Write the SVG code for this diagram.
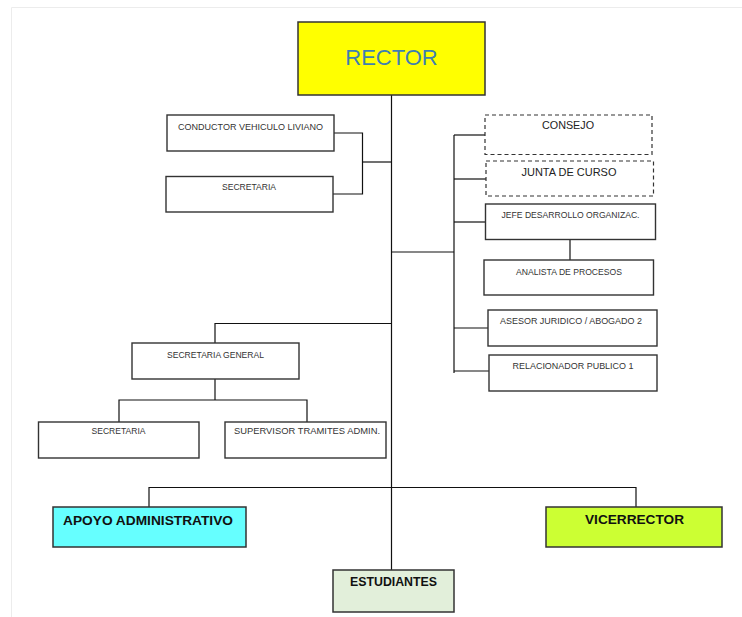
<svg xmlns="http://www.w3.org/2000/svg" width="742" height="617" viewBox="0 0 742 617">
<style>
.box{fill:#fff;stroke:#333;stroke-width:1.4}
.dash{fill:#fff;stroke:#333;stroke-width:1.2;stroke-dasharray:4 3}
.sm{font-family:"Liberation Sans",Arial,sans-serif;font-size:8.5px;fill:#333;text-anchor:middle}
.md{font-family:"Liberation Sans",Arial,sans-serif;font-size:10.5px;fill:#222;text-anchor:middle}
.bd{font-family:"Liberation Sans",Arial,sans-serif;font-size:12px;font-weight:bold;fill:#111;text-anchor:middle}
.conn line,.conn polyline{stroke:#111;stroke-width:1.2;fill:none}
</style>
<rect x="0" y="0" width="742" height="617" fill="#fff"/>
<polyline points="11.5,617 11.5,7.5 742,7.5" fill="none" stroke="#ececec" stroke-width="1"/>
<g class="conn">
<line x1="391.5" y1="95" x2="391.5" y2="570"/>
<polyline points="334,133 362.5,133 362.5,194 333,194"/>
<line x1="362.5" y1="162" x2="391.5" y2="162"/>
<line x1="391.5" y1="252" x2="454" y2="252"/>
<line x1="454" y1="135" x2="454" y2="373"/>
<line x1="454" y1="135" x2="485" y2="135"/>
<line x1="454" y1="179" x2="486" y2="179"/>
<line x1="454" y1="222" x2="486" y2="222"/>
<line x1="454" y1="328" x2="488" y2="328"/>
<line x1="454" y1="371" x2="489" y2="371"/>
<line x1="570" y1="239" x2="570" y2="260"/>
<polyline points="391.5,323.5 215,323.5 215,343"/>
<line x1="215" y1="379" x2="215" y2="400"/>
<polyline points="119,422 119,400 307,400 307,422"/>
<polyline points="149,507 149,487.5 636,487.5 636,507"/>
</g>
<g id="rector"><rect x="298" y="22" width="187" height="73" fill="#ffff00" stroke="#333" stroke-width="1.5"/><text x="391.5" y="65" font-family="Liberation Sans,Arial,sans-serif" font-size="22" fill="#3f7fb0" text-anchor="middle">RECTOR</text></g>
<g id="conductor"><rect class="box" x="167" y="115" width="167" height="36"/><text class="sm" x="250.5" y="129.5" textLength="145" lengthAdjust="spacingAndGlyphs">CONDUCTOR VEHICULO LIVIANO</text></g>
<g id="secretaria1"><rect class="box" x="166" y="176.5" width="167" height="35.5"/><text class="sm" x="249" y="190" textLength="54" lengthAdjust="spacingAndGlyphs">SECRETARIA</text></g>
<g id="consejo"><rect class="dash" x="485" y="115" width="167" height="39.5"/><text class="md" x="568" y="129" textLength="52" lengthAdjust="spacingAndGlyphs">CONSEJO</text></g>
<g id="junta"><rect class="dash" x="486" y="161" width="167.5" height="35"/><text class="md" x="569" y="175.5" textLength="95" lengthAdjust="spacingAndGlyphs">JUNTA DE CURSO</text></g>
<g id="jefe"><rect class="box" x="485.5" y="204" width="170" height="35.5"/><text class="sm" x="570.5" y="217.5" textLength="138" lengthAdjust="spacingAndGlyphs">JEFE DESARROLLO ORGANIZAC.</text></g>
<g id="analista"><rect class="box" x="484" y="260" width="169.5" height="35"/><text class="sm" x="569" y="275" textLength="106" lengthAdjust="spacingAndGlyphs">ANALISTA DE PROCESOS</text></g>
<g id="asesor"><rect class="box" x="488" y="310" width="169" height="36"/><text class="sm" x="571" y="323.5" textLength="142" lengthAdjust="spacingAndGlyphs">ASESOR JURIDICO / ABOGADO 2</text></g>
<g id="relacionador"><rect class="box" x="489" y="355" width="168" height="36"/><text class="sm" x="573" y="368.5" textLength="121" lengthAdjust="spacingAndGlyphs">RELACIONADOR PUBLICO 1</text></g>
<g id="secgeneral"><rect class="box" x="132" y="343" width="167" height="36"/><text class="sm" x="215.5" y="358" textLength="97" lengthAdjust="spacingAndGlyphs">SECRETARIA GENERAL</text></g>
<g id="secretaria2"><rect class="box" x="38.5" y="422" width="160.5" height="36"/><text class="sm" x="118.5" y="433.5" textLength="54" lengthAdjust="spacingAndGlyphs">SECRETARIA</text></g>
<g id="supervisor"><rect class="box" x="225" y="422" width="161" height="36"/><text class="sm" x="307" y="433.5" textLength="146" lengthAdjust="spacingAndGlyphs">SUPERVISOR TRAMITES ADMIN.</text></g>
<g id="apoyo"><rect x="53" y="507" width="193" height="40" fill="#66ffff" stroke="#333" stroke-width="1.5"/><text class="bd" x="148" y="525" textLength="170" lengthAdjust="spacingAndGlyphs">APOYO ADMINISTRATIVO</text></g>
<g id="vicerrector"><rect x="546" y="507" width="176" height="40" fill="#ccff33" stroke="#333" stroke-width="1.5"/><text class="bd" x="634.5" y="524" textLength="99" lengthAdjust="spacingAndGlyphs">VICERRECTOR</text></g>
<g id="estudiantes"><rect x="333" y="570" width="121" height="42" fill="#e2efda" stroke="#333" stroke-width="1.5"/><text class="bd" x="393.5" y="586" font-size="11" textLength="87" lengthAdjust="spacingAndGlyphs">ESTUDIANTES</text></g>
</svg>
